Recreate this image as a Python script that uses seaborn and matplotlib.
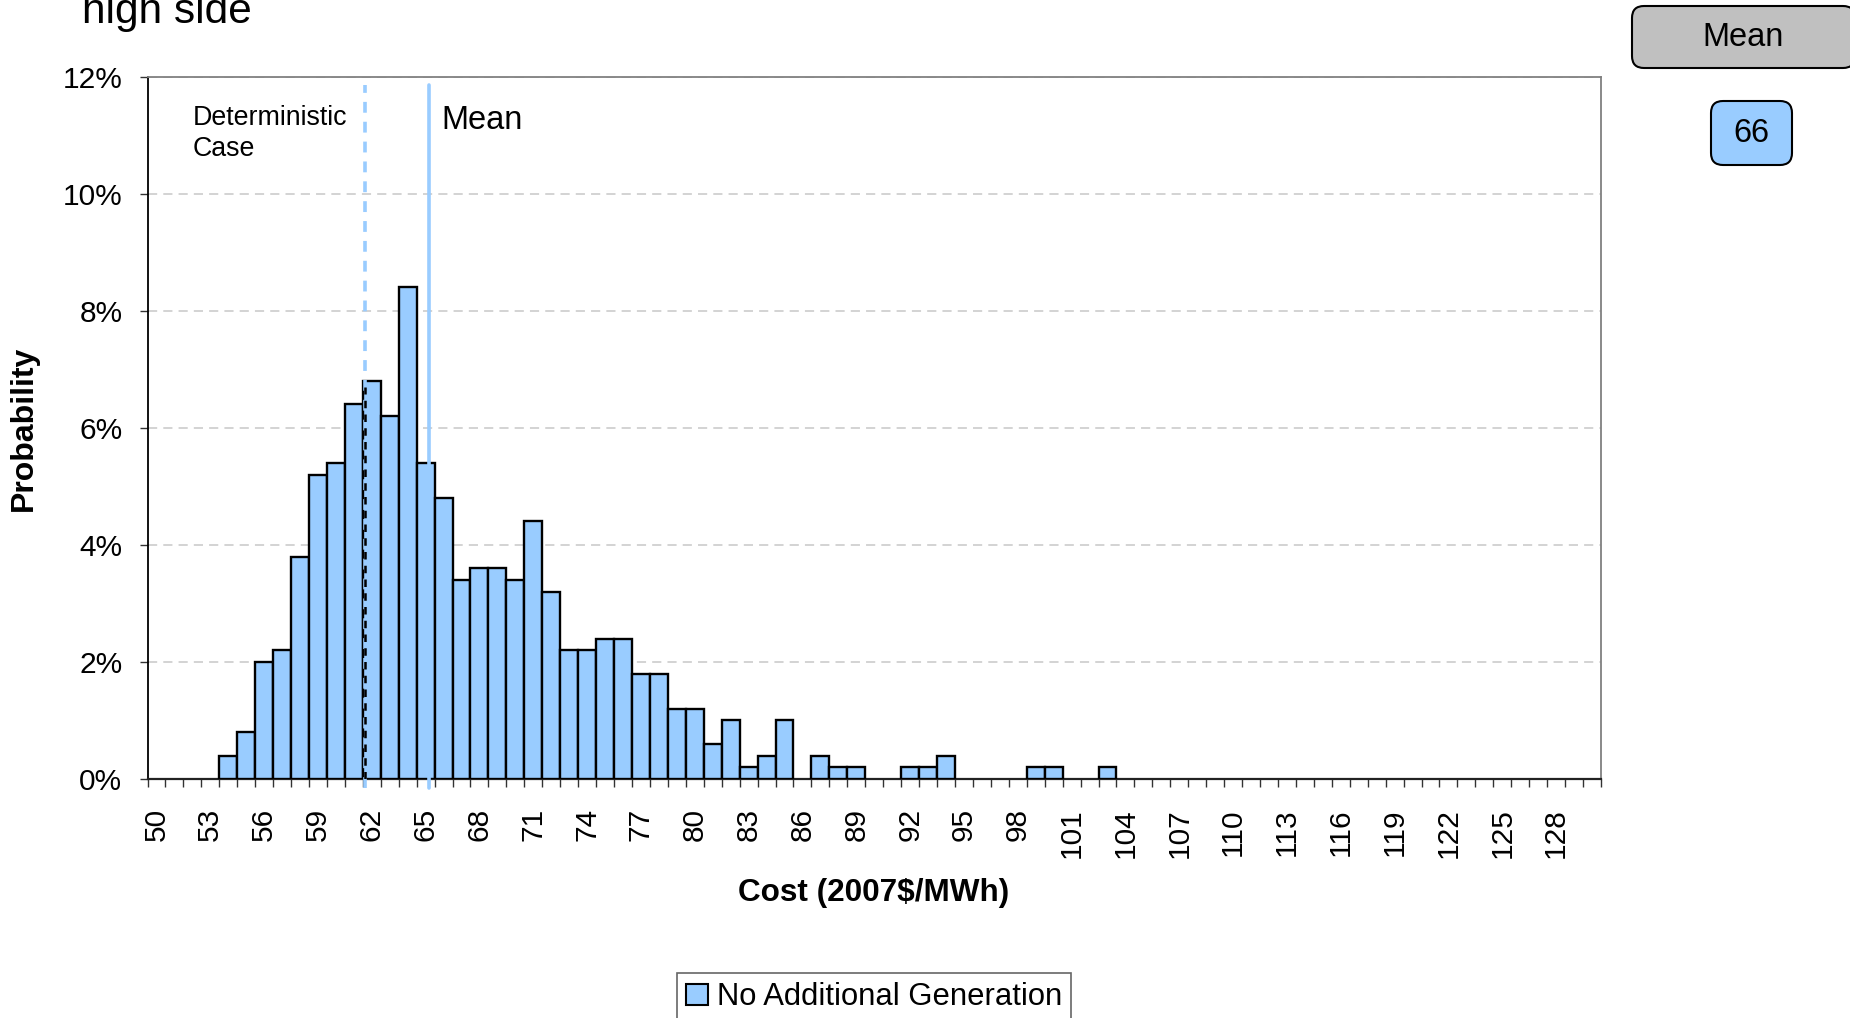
import numpy as np
import pandas as pd
import matplotlib
matplotlib.use('Agg')
import matplotlib.pyplot as plt
import seaborn as sns
from matplotlib.patches import Patch, FancyBboxPatch
from matplotlib.transforms import IdentityTransform

# ---- data ----
costs = list(range(50, 131))
probs = [0, 0, 0, 0,                                   # 50-53
         0.4, 0.8, 2.0, 2.2, 3.8, 5.2, 5.4, 6.4, 6.8, 6.2,   # 54-63
         8.4, 5.4, 4.8, 3.4, 3.6, 3.6, 3.4, 4.4, 3.2, 2.2,   # 64-73
         2.2, 2.4, 2.4, 1.8, 1.8, 1.2, 1.2, 0.6, 1.0, 0.2,   # 74-83
         0.4, 1.0, 0, 0.4, 0.2, 0.2, 0, 0, 0.2, 0.2,         # 84-93
         0.4, 0, 0, 0, 0, 0.2, 0.2, 0, 0, 0.2,               # 94-103
         0, 0, 0, 0, 0, 0, 0, 0, 0, 0,                       # 104-113
         0, 0, 0, 0, 0, 0, 0, 0, 0, 0,                       # 114-123
         0, 0, 0, 0, 0, 0, 0]                                # 124-130
label_ticks = list(range(50, 129, 3))
y_ticks = [0, 2, 4, 6, 8, 10, 12]
deterministic_cost = 61.6
mean_cost = 65.2
mean_value = "66"
series_name = "No Additional Generation"

df = pd.DataFrame({'cost': costs, 'prob': probs})

sns.set_style("white")
plt.rcParams['font.family'] = ['Liberation Sans', 'DejaVu Sans']
plt.rcParams.update({'text.color': 'black', 'axes.labelcolor': 'black',
                     'xtick.color': 'black', 'ytick.color': 'black'})

W, H = 1850, 1018
fig = plt.figure(figsize=(W / 100, H / 100), dpi=100)
ax = fig.add_axes([147.5 / W, 1 - 779 / H, (1601 - 147.5) / W, (779 - 76.7) / H])

blue = '#99CCFF'
sns.barplot(data=df, x='cost', y='prob', native_scale=True, width=1.0,
            color=blue, saturation=1, edgecolor='black', linewidth=1.7,
            errorbar=None, ax=ax, zorder=3)
for p in ax.patches:
    if p.get_height() == 0:
        p.set_linewidth(0)

ax.set_xlim(49.5, 130.5)
ax.set_ylim(0, 12)
ax.set_axisbelow(True)
ax.yaxis.grid(True, linestyle=(0, (6, 4)), color='#c8c8c8', lw=1.1)

# ticks
ax.set_xticks(label_ticks)
ax.set_xticklabels([str(v) for v in label_ticks], rotation=90, fontsize=21.5)
ax.set_xticks(np.arange(49.5, 131, 1), minor=True)
ax.tick_params(axis='x', which='major', length=0, pad=21)
ax.tick_params(axis='x', which='minor', bottom=True, length=6, width=1,
               direction='out', color='#333333')
ax.set_yticks(y_ticks)
ax.set_yticklabels([f"{v}%" for v in y_ticks], fontsize=21.5)
ax.tick_params(axis='y', left=True, length=6, width=1, direction='out',
               color='#333333', pad=12)
ax.set_xlabel('')
ax.set_ylabel('')

for s in ['top', 'right']:
    ax.spines[s].set_color('#808080')
    ax.spines[s].set_linewidth(1.3)
ax.spines['left'].set_color('black')
ax.spines['left'].set_linewidth(1.3)
ax.spines['bottom'].set_color('#222222')
ax.spines['bottom'].set_linewidth(1.6)

# reference lines
ax.plot([deterministic_cost] * 2, [0, 6.7], color='black', lw=1.8,
        ls=(0, (3, 2.5)), zorder=4)
ax.plot([deterministic_cost] * 2, [-0.16, 11.86], color=blue, lw=2.6,
        ls=(0, (3, 2.5)), zorder=3.5, clip_on=False)
ax.plot([mean_cost] * 2, [-0.16, 11.86], color=blue, lw=2.6, zorder=3.5,
        clip_on=False)

ax.text(52.0, 11.52, "Deterministic\nCase", fontsize=19.3, va='top',
        ha='left', linespacing=1.25)
ax.text(65.9, 11.52, "Mean", fontsize=23.5, va='top', ha='left')

# axis titles
fig.text(874 / W, 1 - 893 / H, "Cost (2007$/MWh)", fontsize=22.7,
         fontweight='bold', ha='center', va='center')
fig.text(24 / W, 1 - 428 / H, "Probability", fontsize=23,
         fontweight='bold', ha='center', va='center', rotation=90)

# title cut off at top
fig.text(82 / W, 1 - 23 / H, "high side", fontsize=30.5, ha='left',
         va='baseline')

# boxes at top right (pixel coords, y from top)
def add_box(x0, y0, x1, y1, fc, text, fs):
    box = FancyBboxPatch((x0, H - y1), x1 - x0, y1 - y0,
                         boxstyle="round,pad=0,rounding_size=12",
                         transform=IdentityTransform(), facecolor=fc,
                         edgecolor='black', lw=1.5)
    fig.add_artist(box)
    fig.text((x0 + x1) / 2 / W, 1 - (y0 + y1) / 2 / H, text, fontsize=fs,
             ha='center', va='center')

add_box(1632, 6, 1855, 68, '#C0C0C0', "Mean", 23.5)
add_box(1711, 101, 1792, 165, blue, mean_value, 23.5)

# legend
handles = [Patch(facecolor=blue, edgecolor='black', lw=1.5, label=series_name)]
leg = fig.legend(handles=handles, loc='upper center',
                 bbox_to_anchor=(874 / W, 1 - 973 / H), fontsize=22.3,
                 frameon=True, fancybox=False, handlelength=0.7,
                 handleheight=0.7, handletextpad=0.3, borderpad=0.3,
                 borderaxespad=0)
leg.get_frame().set_edgecolor('#404040')
leg.get_frame().set_linewidth(1.2)

plt.savefig('out.png', dpi=100)
plt.close()
